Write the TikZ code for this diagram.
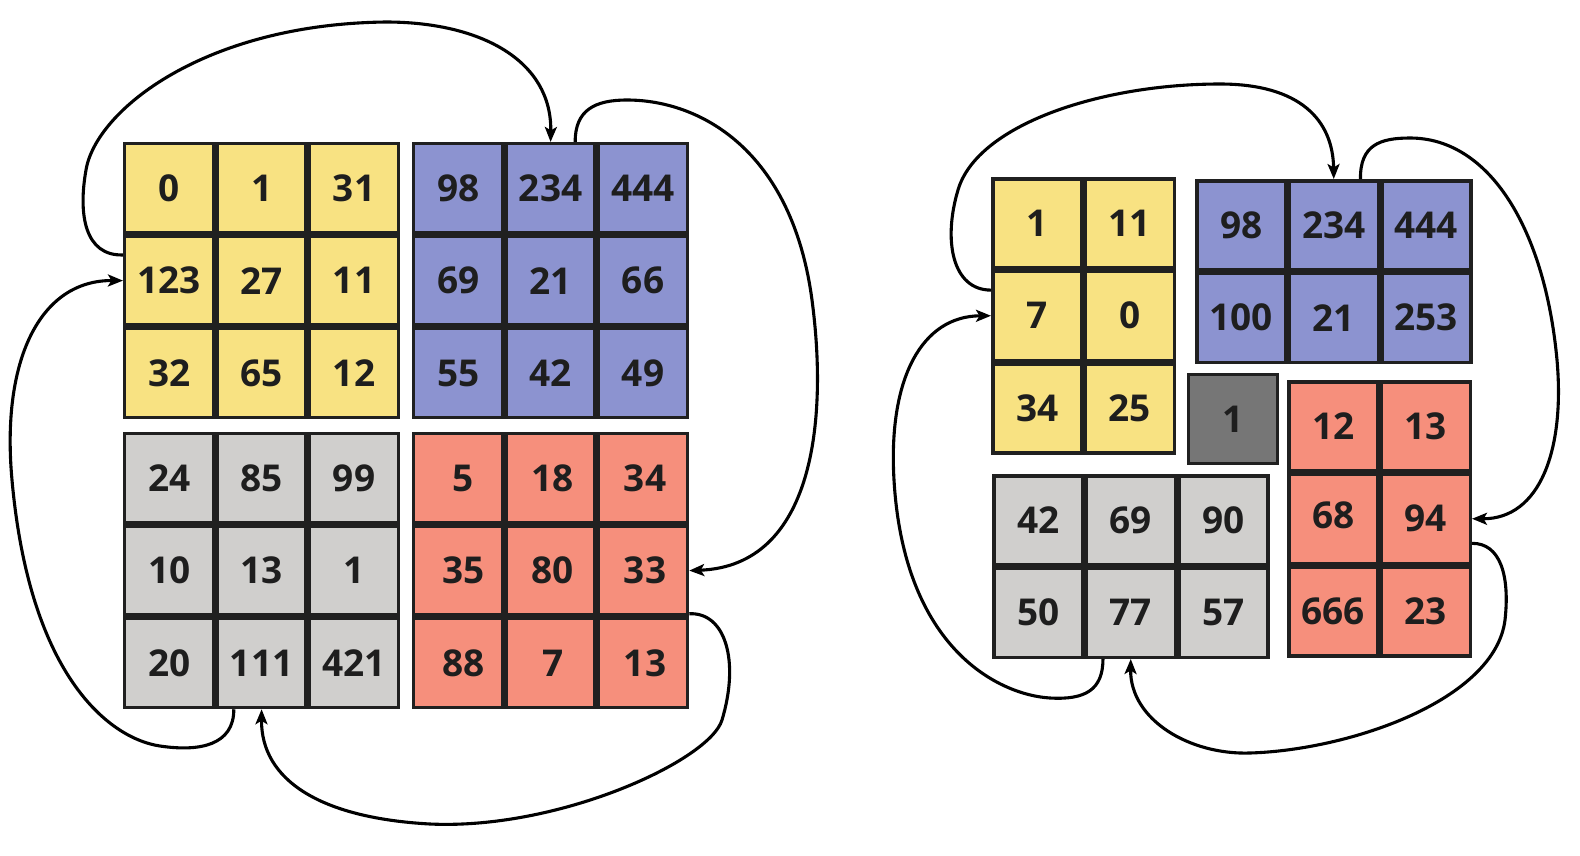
\documentclass[tikz,border=0pt]{standalone}
\usepackage{fontspec}
\setmainfont{Open Sans}
\usetikzlibrary{arrows.meta}
\definecolor{yel}{HTML}{F8E282}
\definecolor{blu}{HTML}{8C93D0}
\definecolor{gry}{HTML}{D0CFCD}
\definecolor{rd}{HTML}{F68F7C}
\definecolor{dgry}{HTML}{767676}
\definecolor{bordercol}{HTML}{202020}
\definecolor{textcol}{HTML}{1E1E1E}
\newcommand\mkgrid[7]{%
  \foreach \v [count=\i from 0] in {#7} {%
    \pgfmathtruncatemacro\rr{\i/#4}%
    \pgfmathtruncatemacro\cc{\i-\rr*#4}%
    \node[cell,fill=#6] (#1\rr\cc) at ({#2+#5*(\cc+0.5)},{#3+#5*(\rr+0.5)}) {\v};
  }}
\tikzset{
  cell/.style={draw=bordercol, line width=3.5pt, minimum size=89pt, inner sep=0pt,
    font=\fontsize{37}{40}\selectfont\bfseries, text=textcol},
  link/.style={line width=3.1pt, black},
  tip/.style={-{Stealth[length=15pt,width=12pt,inset=3.5pt]}}
}
\begin{document}
\begin{tikzpicture}[x=1pt,y=-1pt]
\useasboundingbox[fill=white] (0,0) rectangle (1580,855);
% left group
\mkgrid{LY}{123}{142}{3}{92.4}{yel}{0,1,31,123,27,11,32,65,12}
\mkgrid{LB}{412}{142}{3}{92.4}{blu}{98,234,444,69,21,66,55,42,49}
\mkgrid{LG}{123}{432}{3}{92.4}{gry}{24,85,99,10,13,1,20,111,421}
\mkgrid{LR}{412}{432}{3}{92.4}{rd}{{\hspace{10pt}5},{\hspace{4pt}18},{\hspace{4pt}34},{\hspace{10pt}35},{\hspace{4pt}80},{\hspace{4pt}33},{\hspace{10pt}88},{\hspace{4pt}7},{\hspace{4pt}13}}
% right group
\mkgrid{RY}{991}{177}{2}{92.5}{yel}{1,11,7,0,34,25}
\mkgrid{RB}{1195}{179}{3}{92.5}{blu}{98,234,444,100,21,253}
\node[cell,fill=dgry] (RS) at (1233,419) {1};
\mkgrid{RR}{1287}{380}{2}{92.5}{rd}{12,13,{\raisebox{7pt}{68}\hspace{12pt}},94,666,23}
\mkgrid{RG}{992}{474}{3}{92.5}{gry}{42,69,90,50,77,57}
% left connectors
\draw[link,tip] (LY10.151) .. controls (85,256) and (78,215) .. (86,170)
  .. controls (96,110) and (205,24) .. (386,22)
  .. controls (480,22) and (552,60) .. (LB01.north);
\draw[link,tip] (LB01.62) .. controls (575,110) and (595,100) .. (627,100)
  .. controls (700,100) and (792,150) .. (812,300)
  .. controls (828,420) and (814,566) .. (LR12.east);
\draw[link,tip] (LR12.-43) .. controls (725,612) and (740,660) .. (722,720)
  .. controls (710,760) and (560,830) .. (430,824)
  .. controls (320,818) and (261,780) .. (LG21.south);
\draw[link,tip] (LG21.239) .. controls (234,745) and (200,752) .. (160,746)
  .. controls (112,739) and (30,680) .. (12,480)
  .. controls (1,360) and (40,280) .. (LY10.west);
% right connectors
\draw[link,tip] (RY10.151) .. controls (952,290) and (943,240) .. (958,190)
  .. controls (977,125) and (1100,84) .. (1220,84)
  .. controls (1300,84) and (1333,120) .. (RB01.north);
\draw[link,tip] (RB01.60) .. controls (1360,145) and (1380,138) .. (1410,138)
  .. controls (1490,138) and (1545,230) .. (1557,360)
  .. controls (1565,450) and (1540,519) .. (RR11.east);
\draw[link,tip] (RR11.-28) .. controls (1500,543) and (1510,575) .. (1505,620)
  .. controls (1495,700) and (1350,750) .. (1250,753)
  .. controls (1190,755) and (1130,720) .. (RG11.south);
\draw[link,tip] (RG11.239) .. controls (1103,690) and (1085,700) .. (1050,698)
  .. controls (1000,695) and (904,650) .. (894,480)
  .. controls (888,378) and (922,316) .. (RY10.west);
\end{tikzpicture}
\end{document}
